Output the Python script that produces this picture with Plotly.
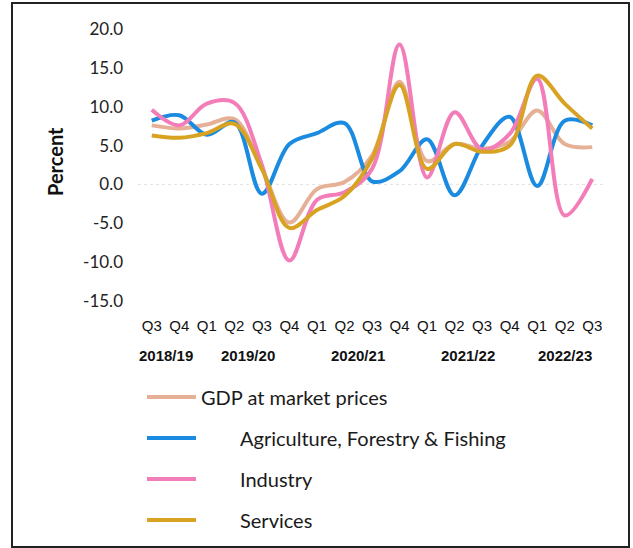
import plotly.graph_objects as go

# ---------------- data ----------------
quarters = ["Q3", "Q4", "Q1", "Q2", "Q3", "Q4", "Q1", "Q2", "Q3", "Q4",
            "Q1", "Q2", "Q3", "Q4", "Q1", "Q2", "Q3"]
fiscal_years = ["2018/19", "2018/19",
                "2019/20", "2019/20", "2019/20", "2019/20",
                "2020/21", "2020/21", "2020/21", "2020/21",
                "2021/22", "2021/22", "2021/22", "2021/22",
                "2022/23", "2022/23", "2022/23"]

gdp = [7.6, 7.2, 7.7, 8.4, 2.0, -4.9, -0.6, 0.3, 3.7, 13.2,
       3.0, 5.2, 4.6, 5.5, 9.5, 5.2, 4.8]
agriculture = [8.2, 8.9, 6.4, 8.0, -1.2, 5.2, 6.6, 7.9, 0.4, 1.7,
               5.8, -1.4, 5.0, 8.7, -0.2, 8.2, 7.6]
industry = [9.6, 7.6, 10.4, 10.5, 2.5, -9.8, -2.0, -1.0, 2.0, 18.0,
            0.9, 9.3, 4.5, 6.5, 13.6, -4.0, 0.7]
services = [6.3, 6.0, 6.6, 7.8, 2.0, -5.6, -3.3, -1.5, 3.3, 12.8,
            2.0, 5.2, 4.2, 5.0, 14.0, 10.4, 7.2]

series_names = ["GDP at market prices", "Agriculture, Forestry & Fishing",
                "Industry", "Services"]
series_values = [gdp, agriculture, industry, services]
series_colors = ["#E6B096", "#1A8BE0", "#F27DB9", "#D8A323"]

y_ticks = [20, 15, 10, 5, 0, -5, -10, -15]

# ---------------- geometry ----------------
W, H = 633, 548
L, R, T, B = 138, 27, 29, 247
PW, PH = W - L - R, H - T - B


def px_x(x):
    return (x - L) / PW


def px_y(y):
    return (H - B - y) / PH


FONT_UI = "Lato, 'Open Sans', sans-serif"
FONT_AX = "'Liberation Sans', Arial, sans-serif"

idx = list(range(len(quarters)))

fig = go.Figure()
for name, vals, col in zip(series_names, series_values, series_colors):
    fig.add_trace(go.Scatter(
        x=idx, y=vals, mode="lines", name=name,
        line=dict(color=col, width=4, shape="spline", smoothing=1.0),
        showlegend=False,
    ))

# fiscal-year labels centred under their quarters
shapes = []
annotations = []
seen = []
for fy in fiscal_years:
    if fy not in seen:
        seen.append(fy)
for fy in seen:
    pos = [i for i, f in enumerate(fiscal_years) if f == fy]
    annotations.append(dict(
        x=sum(pos) / len(pos), xref="x", y=px_y(355), yref="paper",
        text="<b>%s</b>" % fy, showarrow=False,
        font=dict(family=FONT_AX, size=15, color="#111"),
        xanchor="center", yanchor="middle",
    ))

# y-axis title
annotations.append(dict(
    x=px_x(55), y=px_y(162), xref="paper", yref="paper",
    text="<b>Percent</b>", textangle=-90, showarrow=False,
    font=dict(family=FONT_UI, size=20, color="#111"),
    xanchor="center", yanchor="middle",
))

# manual legend
leg_y = [397, 438, 479, 520]
leg_text_x = [199, 238, 238, 238]
for name, col, ly, tx in zip(series_names, series_colors, leg_y, leg_text_x):
    shapes.append(dict(
        type="line", xref="paper", yref="paper",
        x0=px_x(147), x1=px_x(196), y0=px_y(ly), y1=px_y(ly),
        line=dict(color=col, width=4),
    ))
    annotations.append(dict(
        x=px_x(tx), y=px_y(ly), xref="paper", yref="paper",
        text=name, showarrow=False,
        font=dict(family=FONT_UI, size=20, color="#1a1a1a"),
        xanchor="left", yanchor="middle",
    ))

# faint zero line
shapes.append(dict(
    type="line", xref="paper", yref="y", x0=0, x1=1, y0=0, y1=0,
    line=dict(color="#e2e2e2", width=1, dash="dot"), layer="below",
))

# outer frame
shapes.append(dict(
    type="rect", xref="paper", yref="paper",
    x0=px_x(12), x1=px_x(629), y0=px_y(547), y1=px_y(3),
    line=dict(color="#222", width=2),
))

fig.update_layout(
    width=W, height=H,
    margin=dict(l=L, r=R, t=T, b=B, pad=0),
    paper_bgcolor="white", plot_bgcolor="white",
    showlegend=False,
    shapes=shapes, annotations=annotations,
    xaxis=dict(
        range=[-0.5, len(quarters) - 0.5],
        tickmode="array", tickvals=idx, ticktext=quarters,
        showgrid=False, zeroline=False, showline=False, ticks="",
        tickfont=dict(family=FONT_AX, size=15, color="#111"),
        ticklabelstandoff=14, fixedrange=True,
    ),
    yaxis=dict(
        range=[-15, 20],
        tickmode="array", tickvals=y_ticks,
        ticktext=["%.1f" % v for v in y_ticks],
        showgrid=False, zeroline=False, showline=False, ticks="",
        tickfont=dict(family=FONT_UI, size=17, color="#222"),
        ticklabelstandoff=14, fixedrange=True,
    ),
)

fig.write_html(
    "out.html",
    config={"displayModeBar": False},
    post_script="document.body.style.margin='0';document.body.style.overflow='hidden';",
)
